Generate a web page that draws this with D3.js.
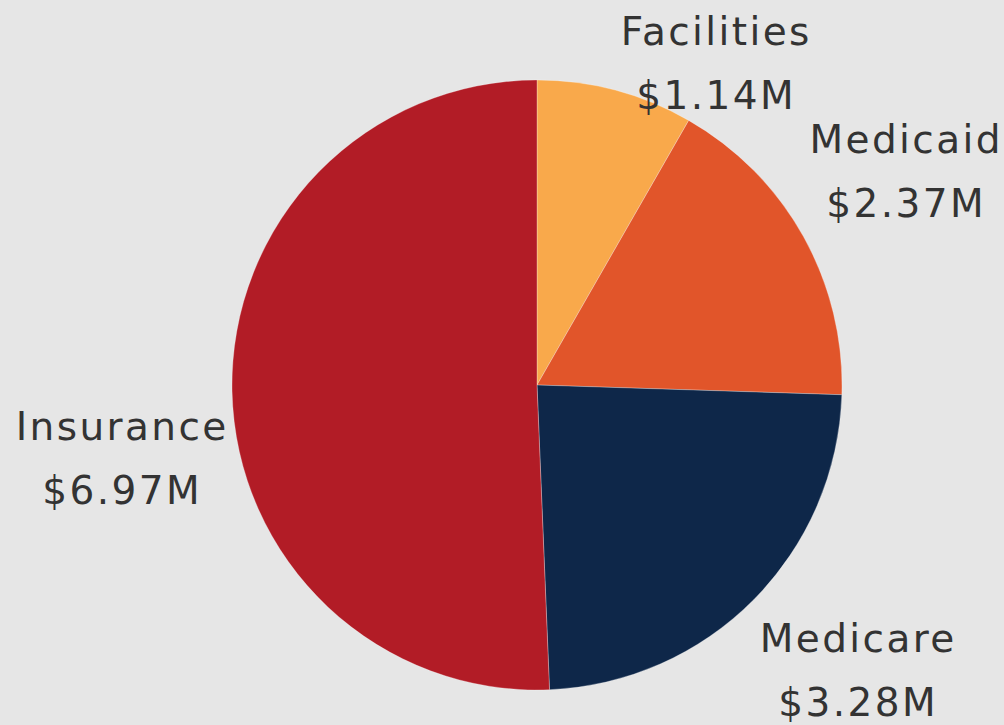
<!DOCTYPE html>
<html><head><meta charset="utf-8">
<script src="https://cdn.jsdelivr.net/npm/d3@7"></script>
<style>html,body{margin:0;padding:0;background:#e6e6e6;overflow:hidden}</style>
</head><body>
<svg id="chart" width="1004" height="725"></svg>
<script>
const categories = ["Facilities", "Medicaid", "Medicare", "Insurance"];
const values = [1.14, 2.37, 3.28, 6.97];
const valueLabels = ["$1.14M", "$2.37M", "$3.28M", "$6.97M"];
const colors = ["#F9A94B", "#E1552A", "#0E2749", "#B21C26"];

const svg = d3.select("#chart");
const W = 1004, H = 725;
svg.append("rect").attr("width", W).attr("height", H).attr("fill", "#e6e6e6");

const cx = 537, cy = 385, R = 305;
const data = categories.map((c, i) => ({cat: c, value: values[i], label: valueLabels[i], color: colors[i]}));

const pie = d3.pie().value(d => d.value).sort(null);
const arc = d3.arc().innerRadius(0).outerRadius(R);
const arcs = pie(data);

const g = svg.append("g").attr("transform", `translate(${cx},${cy})`);
g.selectAll("path").data(arcs).enter().append("path")
  .attr("d", arc)
  .attr("fill", d => d.data.color)
  .attr("stroke", "rgba(255,255,255,0.35)")
  .attr("stroke-width", 0.8);

// label layout (positions of label centers/baselines)
const labelPos = {
  "Facilities": [715, 45],
  "Medicaid": [905, 153],
  "Medicare": [857, 652],
  "Insurance": [121, 440]
};
const lineGap = 64;
const ls = 2.4;
const lbl = svg.append("g")
  .attr("font-family", "'DejaVu Sans', sans-serif")
  .attr("font-size", 39)
  .attr("letter-spacing", ls)
  .attr("fill", "#333333")
  .attr("text-anchor", "middle");
arcs.forEach(a => {
  const p = labelPos[a.data.cat];
  const x = p[0] + ls / 2;
  const t = lbl.append("text").attr("x", x).attr("y", p[1]);
  t.append("tspan").attr("x", x).attr("y", p[1]).text(a.data.cat);
  t.append("tspan").attr("x", x).attr("y", p[1] + lineGap).text(a.data.label);
});
</script>
</body></html>
